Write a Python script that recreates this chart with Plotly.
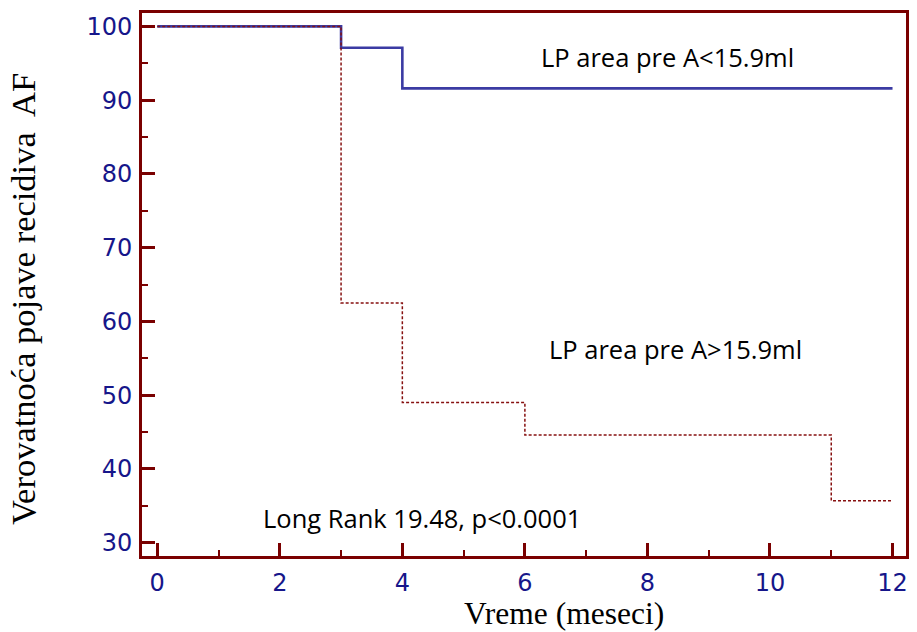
import plotly.graph_objects as go

# Kaplan-Meier step data
months_low = [0, 3, 4, 12]
surv_low = [100, 97.1, 91.6, 91.6]

months_high = [0, 3, 4, 6, 11, 12]
surv_high = [100, 62.5, 49.0, 44.6, 35.7, 35.7]

x_ticks = [0, 2, 4, 6, 8, 10, 12]
y_ticks = [30, 40, 50, 60, 70, 80, 90, 100]

label_low = "LP area pre A<15.9ml"
label_high = "LP area pre A>15.9ml"
stat_text = "Long Rank 19.48, p<0.0001"
x_title = "Vreme (meseci)"
y_title = "Verovatnoća pojave recidiva  AF"

FRAME = "#7a0000"
TICKTXT = "#16168a"
ANN_FONT = dict(family="Open Sans", size=25.5, color="black")
TITLE_FONT = dict(family="Liberation Serif", color="black")

fig = go.Figure()
fig.add_trace(go.Scatter(
    x=months_low, y=surv_low, mode="lines", line_shape="hv",
    line=dict(color="#3b3ba3", width=2.6), name=label_low, showlegend=False))
fig.add_trace(go.Scatter(
    x=months_high, y=surv_high, mode="lines", line_shape="hv",
    line=dict(color="#861010", width=1.5, dash="3px,2px"), name=label_high,
    showlegend=False))

fig.add_annotation(x=8.32, y=95.9, xref="x", yref="y", text=label_low,
                   showarrow=False, font=ANN_FONT, xanchor="center", yanchor="middle")
fig.add_annotation(x=8.45, y=56.3, xref="x", yref="y", text=label_high,
                   showarrow=False, font=ANN_FONT, xanchor="center", yanchor="middle")
fig.add_annotation(x=4.32, y=33.3, xref="x", yref="y", text=stat_text,
                   showarrow=False, font=ANN_FONT, xanchor="center", yanchor="middle")

# axis titles (placed as in the original, off-centre)
fig.add_annotation(x=0.553, y=-0.1068, xref="paper", yref="paper", text=x_title,
                   showarrow=False, font=dict(TITLE_FONT, size=31.5),
                   xanchor="center", yanchor="middle")
fig.add_annotation(x=-0.156, y=0.473, xref="paper", yref="paper", text=y_title,
                   textangle=-90, showarrow=False, font=dict(TITLE_FONT, size=34.5),
                   xanchor="center", yanchor="middle")

fig.update_layout(
    width=917, height=632,
    margin=dict(l=142, r=8, t=13, b=76),
    paper_bgcolor="white", plot_bgcolor="white",
    xaxis=dict(
        range=[-0.249, 12.22], tickvals=x_ticks, ticktext=[str(v) for v in x_ticks],
        showgrid=False, zeroline=False,
        showline=True, mirror=True, linecolor=FRAME, linewidth=3,
        ticks="inside", ticklen=13, tickwidth=3, tickcolor=FRAME,
        minor=dict(dtick=1, tick0=0, ticks="inside", ticklen=6, tickwidth=2, tickcolor=FRAME),
        tickfont=dict(family="DejaVu Sans", size=24, color=TICKTXT),
        ticklabelstandoff=3,
    ),
    yaxis=dict(
        range=[28.2, 101.82], tickvals=y_ticks, ticktext=[str(v) for v in y_ticks],
        showgrid=False, zeroline=False,
        showline=True, mirror=True, linecolor=FRAME, linewidth=3,
        ticks="inside", ticklen=13, tickwidth=3, tickcolor=FRAME,
        minor=dict(dtick=5, tick0=0, ticks="inside", ticklen=6, tickwidth=2, tickcolor=FRAME),
        tickfont=dict(family="DejaVu Sans", size=24, color=TICKTXT),
        ticklabelstandoff=2,
    ),
)

fig.write_html(
    "out.html",
    config={"displayModeBar": False},
    post_script="document.body.style.margin='0';document.body.style.overflow='hidden';",
)
